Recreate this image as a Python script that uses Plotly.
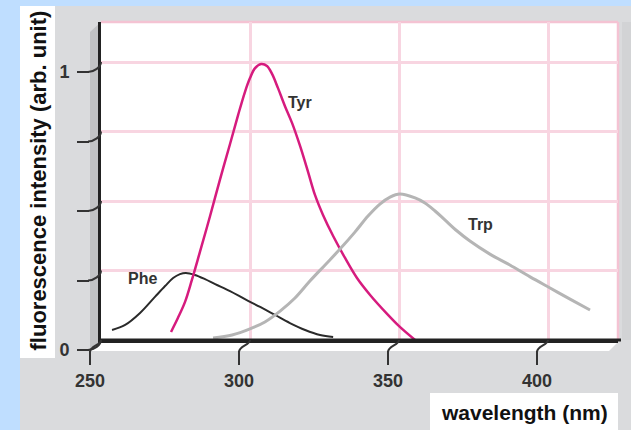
import plotly.graph_objects as go

# ---------------- data ----------------
phe_wl = [253.7, 258.1, 263.1, 268.1, 271.5, 274.2, 276.5, 278.5, 281.5, 284.9, 288.3, 293.3, 298.3, 303.4, 308.4, 313.4, 318.5, 323.5, 327.9]
phe_int = [0.036, 0.054, 0.097, 0.155, 0.194, 0.223, 0.237, 0.241, 0.234, 0.219, 0.201, 0.176, 0.147, 0.119, 0.090, 0.061, 0.036, 0.018, 0.011]

tyr_wl = [273.5, 275.8, 278.2, 280.5, 283.2, 286.6, 289.9, 293.3, 296.0, 298.3, 300.0, 301.7, 303.7, 305.7, 307.4, 309.4, 311.7,
          314.1, 316.8, 319.5, 321.8, 324.5, 327.9, 331.9, 335.9, 340.3, 346.0, 350.3, 355.4]
tyr_int = [0.029, 0.079, 0.137, 0.216, 0.317, 0.446, 0.576, 0.705, 0.809, 0.892, 0.942, 0.978, 0.993, 0.986, 0.957, 0.906, 0.842,
           0.781, 0.698, 0.604, 0.522, 0.450, 0.374, 0.295, 0.223, 0.162, 0.094, 0.047, 0.0]

trp_wl = [287.6, 294.0, 300.0, 305.0, 310.1, 315.1, 320.1, 325.2, 330.2, 335.2, 339.6, 343.6, 347.0, 350.3, 355.4, 358.7, 362.1,
          365.4, 369.5, 373.8, 380.5, 387.2, 394.0, 400.7, 407.4, 414.1]
trp_int = [0.007, 0.018, 0.040, 0.065, 0.104, 0.151, 0.212, 0.270, 0.327, 0.388, 0.446, 0.489, 0.514, 0.525, 0.511, 0.493, 0.464,
           0.432, 0.392, 0.356, 0.309, 0.270, 0.227, 0.187, 0.147, 0.108]

x_ticks = [250, 300, 350, 400]
x_ticktext = ["250", "300", "350", "400"]
y_ticks = [0, 0.25, 0.5, 0.75, 1]
y_ticktext = ["0", "", "", "", "1"]

labels = ["Phe", "Tyr", "Trp"]
label_wl = [263.8, 316.8, 377.2]
label_int = [0.223, 0.856, 0.414]

x_title = "wavelength (nm)"
y_title = "fluorescence intensity (arb. unit)"

# ---------------- geometry ----------------
W, H = 631, 430
BX0, BX1 = 101, 618      # back wall (plot area) pixels
BY0, BY1 = 22, 340       # top, bottom
DX, DY = -11, 10         # offset of the front axes
X_RANGE = [250, 250 + (BX1 - BX0) / 2.98]
Y_RANGE = [0, (BY1 - BY0) / 278.0]


def fx(p):
    return p / W


def fy(p):
    return 1 - p / H


def data_px_x(v):
    return BX0 + (v - X_RANGE[0]) / (X_RANGE[1] - X_RANGE[0]) * (BX1 - BX0)


def data_px_y(v):
    return BY1 - (v - Y_RANGE[0]) / (Y_RANGE[1] - Y_RANGE[0]) * (BY1 - BY0)


FONT = "Liberation Sans, Arial, Helvetica, sans-serif"
PINK = "#F8D5E1"
GRAY = "#DADBDD"

fig = go.Figure()

fig.add_trace(go.Scatter(x=phe_wl, y=phe_int, mode="lines", line=dict(color="#2a2a2a", width=2, shape="spline", smoothing=1),
                         name="Phe", showlegend=False, hoverinfo="skip"))
fig.add_trace(go.Scatter(x=tyr_wl, y=tyr_int, mode="lines", line=dict(color="#D61B7E", width=2.5, shape="spline", smoothing=1),
                         name="Tyr", showlegend=False, hoverinfo="skip"))
fig.add_trace(go.Scatter(x=trp_wl, y=trp_int, mode="lines", line=dict(color="#B5B5B5", width=3, shape="spline", smoothing=1),
                         name="Trp", showlegend=False, hoverinfo="skip"))
# invisible trace to carry the front axes
fig.add_trace(go.Scatter(x=[x_ticks[0]], y=[y_ticks[0]], xaxis="x2", yaxis="y2", mode="markers",
                         marker=dict(opacity=0), showlegend=False, hoverinfo="skip"))

for t, xv, yv in zip(labels, label_wl, label_int):
    fig.add_annotation(x=xv, y=yv, xref="x", yref="y", text=t, showarrow=False,
                       xanchor="center", yanchor="middle",
                       font=dict(family=FONT, size=16, color="#333333", weight="bold"))

shapes = []
# gray panel
shapes.append(dict(type="rect", xref="paper", yref="paper", x0=fx(20), x1=fx(W), y0=fy(H), y1=fy(6),
                   fillcolor=GRAY, line=dict(width=0), layer="below"))
# right darker strip
shapes.append(dict(type="rect", xref="paper", yref="paper", x0=fx(622), x1=fx(W), y0=fy(340), y1=fy(22),
                   fillcolor="#D2D3D5", line=dict(width=0), layer="below"))
# white box for y title
shapes.append(dict(type="rect", xref="paper", yref="paper", x0=fx(20), x1=fx(55), y0=fy(358), y1=fy(6),
                   fillcolor="white", line=dict(width=0), layer="below"))
# back wall
shapes.append(dict(type="rect", xref="paper", yref="paper", x0=fx(BX0), x1=fx(BX1), y0=fy(BY1), y1=fy(BY0),
                   fillcolor="white", line=dict(width=0), layer="below"))
# left wall
lw = "M {},{} L {},{} L {},{} L {},{} Z".format(fx(BX0 + DX), fy(BY0 + DY), fx(BX0), fy(BY0), fx(BX0), fy(BY1),
                                                 fx(BX0 + DX), fy(BY1 + DY))
shapes.append(dict(type="path", xref="paper", yref="paper", path=lw, fillcolor="#C2C3C5",
                   line=dict(width=0), layer="below"))
# floor
fl = "M {},{} L {},{} L {},{} L {},{} Z".format(fx(BX0), fy(BY1), fx(BX1 + 2), fy(BY1), fx(BX1 + 2 + DX), fy(BY1 + DY + 1),
                                                 fx(BX0 + DX), fy(BY1 + DY + 1))
shapes.append(dict(type="path", xref="paper", yref="paper", path=fl, fillcolor="white",
                   line=dict(width=0), layer="below"))
# wavelength box
shapes.append(dict(type="rect", xref="paper", yref="paper", x0=fx(430), x1=fx(618), y0=fy(H), y1=fy(393),
                   fillcolor="white", line=dict(width=0), layer="below"))
# pink top / right border of back wall
shapes.append(dict(type="line", xref="paper", yref="paper", x0=fx(BX0), x1=fx(BX1), y0=fy(BY0), y1=fy(BY0),
                   line=dict(color="#F4C3D3", width=2.5), layer="below"))
shapes.append(dict(type="line", xref="paper", yref="paper", x0=fx(BX1), x1=fx(BX1), y0=fy(BY1), y1=fy(BY0),
                   line=dict(color="#F4C3D3", width=2.5), layer="below"))
# bottom axis line extends slightly past the wall
shapes.append(dict(type="line", xref="paper", yref="paper", x0=fx(BX0), x1=fx(BX1 + 3), y0=fy(BY1), y1=fy(BY1),
                   line=dict(color="#222222", width=3), layer="above"))
# connectors from the front ticks to the back wall
for v in x_ticks:
    xb, yb = data_px_x(v), BY1
    xf, yf = xb + DX, yb + DY + 2
    p = "M {},{} C {},{} {},{} {},{}".format(fx(xf), fy(yf), fx(xf), fy(yf - 6), fx(xb), fy(yb + 5), fx(xb), fy(yb))
    shapes.append(dict(type="path", xref="paper", yref="paper", path=p, line=dict(color="#333333", width=2)))
for v in y_ticks:
    xb, yb = BX0, data_px_y(v)
    xf, yf = xb + DX, yb + DY
    p = "M {},{} C {},{} {},{} {},{}".format(fx(xf - 2), fy(yf), fx(xf + 4), fy(yf), fx(xb), fy(yb + 5), fx(xb), fy(yb))
    shapes.append(dict(type="path", xref="paper", yref="paper", path=p, line=dict(color="#333333", width=2)))

fig.update_layout(
    width=W, height=H,
    margin=dict(l=0, r=0, t=0, b=0, autoexpand=False),
    paper_bgcolor="#BFDEFF",
    plot_bgcolor="rgba(0,0,0,0)",
    shapes=shapes,
    xaxis=dict(domain=[fx(BX0), fx(BX1)], range=X_RANGE, anchor="y", automargin=False,
               tickvals=x_ticks, showticklabels=False, ticks="",
               showgrid=True, gridcolor=PINK, gridwidth=2.5, zeroline=False,
               showline=True, linecolor="#222222", linewidth=3, fixedrange=True),
    yaxis=dict(domain=[fy(BY1), fy(BY0)], range=Y_RANGE, anchor="x", automargin=False,
               tickvals=y_ticks, showticklabels=False, ticks="",
               showgrid=True, gridcolor=PINK, gridwidth=2.5, zeroline=False,
               showline=True, linecolor="#222222", linewidth=3, fixedrange=True),
    xaxis2=dict(domain=[fx(BX0 + DX), fx(BX1 + DX)], range=X_RANGE, anchor="y2", automargin=False,
                tickvals=x_ticks, ticktext=x_ticktext, ticks="outside", ticklen=14,
                tickwidth=2, tickcolor="#333333", showgrid=False, zeroline=False, showline=False,
                tickfont=dict(family=FONT, size=18, color="#333333", weight="bold"), fixedrange=True),
    yaxis2=dict(domain=[fy(BY1 + DY), fy(BY0 + DY)], range=Y_RANGE, anchor="x2", automargin=False,
                tickvals=y_ticks, ticktext=y_ticktext, ticks="outside", ticklen=12, ticklabelstandoff=4,
                tickwidth=2, tickcolor="#333333", showgrid=False, zeroline=False, showline=False,
                tickfont=dict(family=FONT, size=18, color="#333333", weight="bold"), fixedrange=True),
    annotations=list(fig.layout.annotations) + [
        dict(xref="paper", yref="paper", x=fx(37.5), y=fy(181), text=y_title, textangle=-90, showarrow=False,
             xanchor="center", yanchor="middle",
             font=dict(family=FONT, size=22, color="#111111", weight="bold")),
        dict(xref="paper", yref="paper", x=fx(524), y=fy(412), text=x_title, showarrow=False,
             xanchor="center", yanchor="middle",
             font=dict(family=FONT, size=21, color="#111111", weight="bold")),
    ],
)

fig.write_html("out.html")
